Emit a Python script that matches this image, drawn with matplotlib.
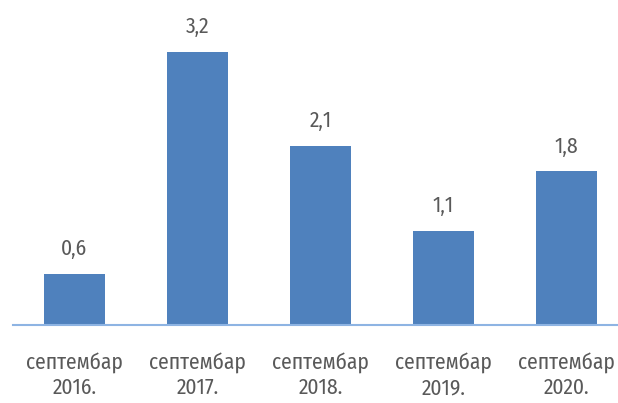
import matplotlib.pyplot as plt

# Data
categories = ['септембар\n2016.', 'септембар\n2017.', 'септембар\n2018.',
              'септембар\n2019.', 'септембар\n2020.']
values = [0.6, 3.2, 2.1, 1.1, 1.8]
value_labels = ['0,6', '3,2', '2,1', '1,1', '1,8']

plt.rcParams['font.family'] = ['Fira Sans Condensed', 'PT Sans Narrow',
                               'Roboto Condensed', 'Archivo Narrow',
                               'DejaVu Sans']

figure = plt.figure(figsize=(6.18, 4.03), dpi=100)
ax = figure.add_axes([13 / 618, 78 / 403, 615 / 618, 325 / 403])

x = range(len(categories))
ax.bar(x, values, width=0.5, color='#4F81BD')

for xi, v, lab in zip(x, values, value_labels):
    ax.text(xi, v + 0.22, lab, ha='center', va='baseline',
            fontsize=15.5, color='#595959')

ax.set_xlim(-0.5, len(categories) - 0.5)
ax.set_ylim(0, 325 / 85.3)
ax.set_xticks(list(x))
ax.set_xticklabels(categories, fontsize=15.5, color='#595959', linespacing=1.2)
ax.tick_params(axis='x', length=0, pad=20)
ax.set_yticks([])

for side in ['top', 'right', 'left']:
    ax.spines[side].set_visible(False)
ax.spines['bottom'].set_color('#8EB4E3')
ax.spines['bottom'].set_linewidth(1.5)

figure.savefig('out.png', dpi=100)
